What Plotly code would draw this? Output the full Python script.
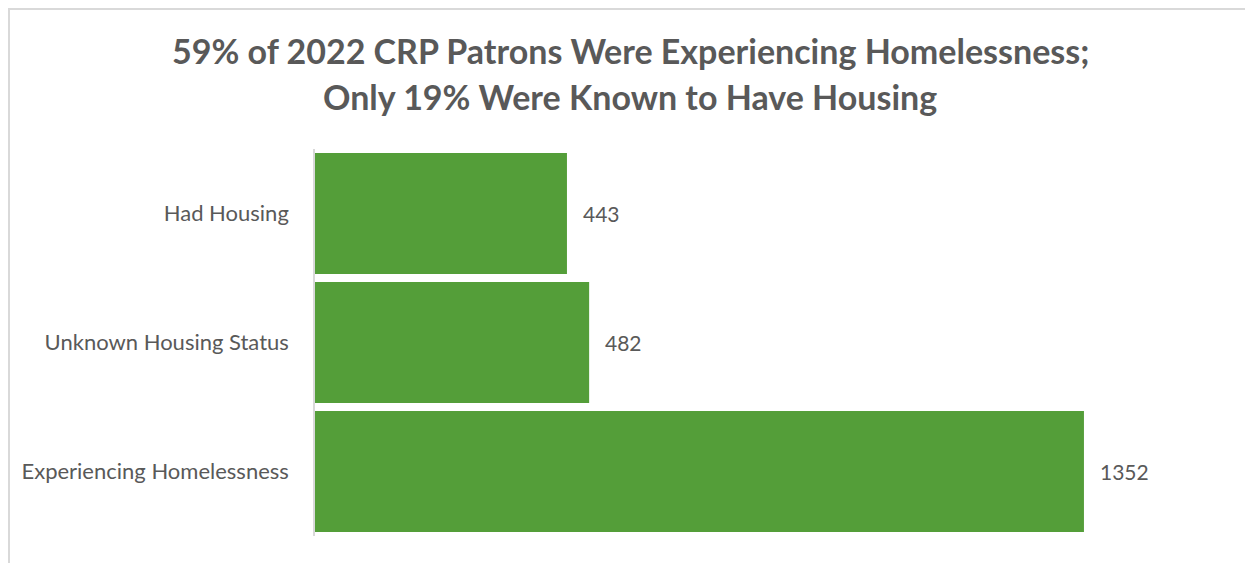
import plotly.graph_objects as go

categories = ["Had Housing", "Unknown Housing Status", "Experiencing Homelessness"]
values = [443, 482, 1352]
title_lines = ["59% of 2022 CRP Patrons Were Experiencing Homelessness;",
               "Only 19% Were Known to Have Housing"]

# page body has an 8px margin, so the figure is drawn 8px in from the window edge
OFF = 8
W, H = 1253 - OFF, 563 - OFF
ml, mt = 315 - OFF, 149 - OFF
pw = 910
ph = 387
mr = W - ml - pw
mb = H - mt - ph

GREEN = "#549e39"
GRAY = "#595959"
FONT = "Lato, Carlito, Calibri, sans-serif"

fig = go.Figure(go.Bar(
    x=values, y=categories, orientation="h",
    marker=dict(color=GREEN, line=dict(width=0)),
    hoverinfo="skip",
))

for v, c in zip(values, categories):
    fig.add_annotation(x=v, y=c, text=str(v), showarrow=False, xanchor="left",
                       xshift=14, font=dict(family=FONT, size=21, color=GRAY))

def px_x(p):
    return (p - OFF - ml) / pw

def px_y(p):
    return 1 - (p - OFF - mt) / ph

# chart border (light gray)
fig.add_shape(type="line", xref="paper", yref="paper",
              x0=px_x(9), x1=px_x(9), y0=px_y(8), y1=px_y(H + 30),
              line=dict(color="#d9d9d9", width=2))
fig.add_shape(type="line", xref="paper", yref="paper",
              x0=px_x(8), x1=px_x(W + 30), y0=px_y(9), y1=px_y(9),
              line=dict(color="#d9d9d9", width=2))

for line, yc in zip(title_lines, [50, 97]):
    fig.add_annotation(xref="paper", yref="paper", x=px_x(630), y=px_y(yc),
                       text="<b>" + line + "</b>", showarrow=False,
                       xanchor="center", yanchor="middle",
                       font=dict(family=FONT, size=34, color=GRAY))

fig.update_layout(
    width=W, height=H,
    margin=dict(l=ml, r=mr, t=mt, b=mb, autoexpand=False),
    paper_bgcolor="white", plot_bgcolor="white",
    bargap=0.062, showlegend=False,
    xaxis=dict(range=[0, 1600], visible=False, fixedrange=True),
    yaxis=dict(autorange="reversed", showline=True, linecolor="#d9d9d9", linewidth=1.5,
               ticks="", showgrid=False, ticklabelstandoff=20,
               tickfont=dict(family=FONT, size=22, color=GRAY)),
)

fig.write_html("out.html")
